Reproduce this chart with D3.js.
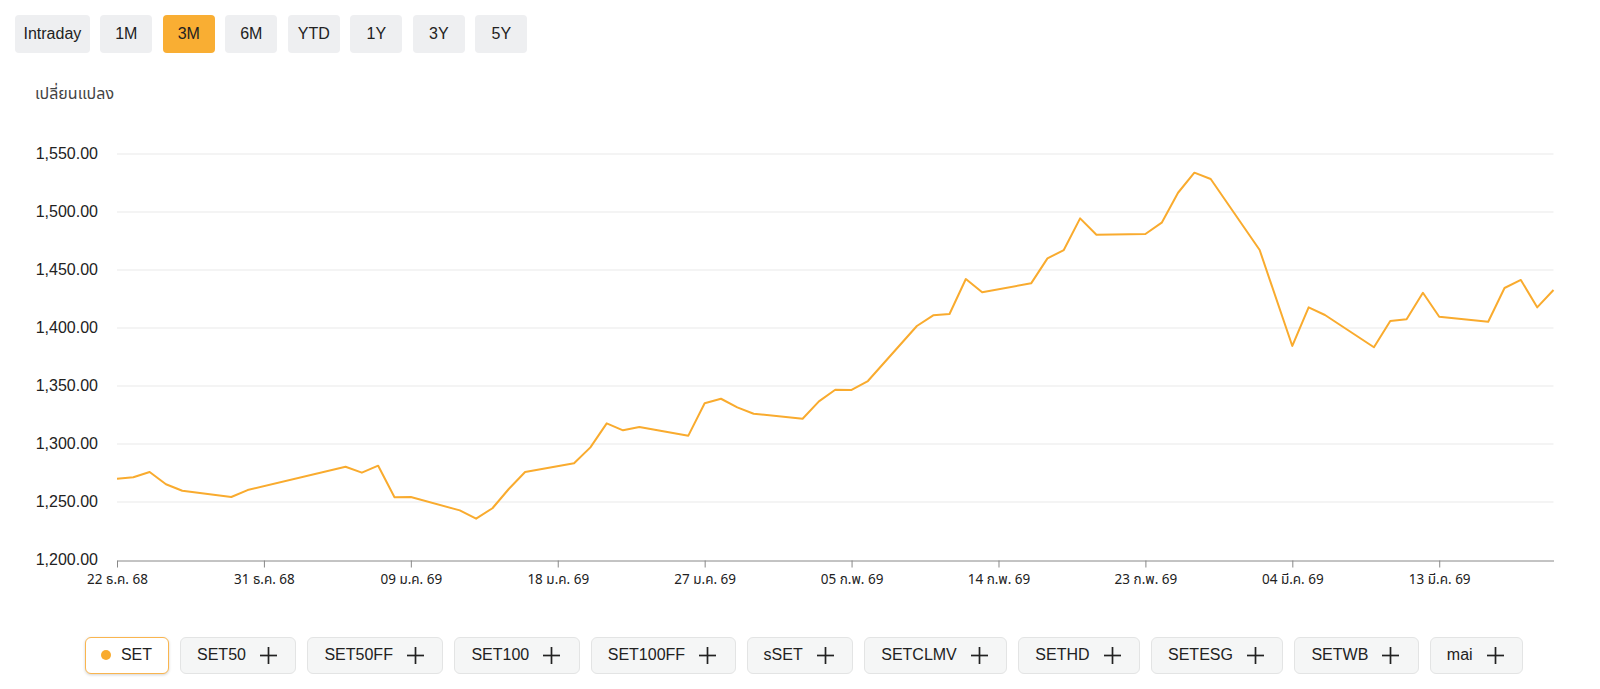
<!DOCTYPE html>
<html>
<head>
<meta charset="utf-8">
<script src="https://cdn.jsdelivr.net/npm/d3@7"></script>
<style>
  html, body { margin: 0; padding: 0; background: #fff; }
  body { width: 1600px; height: 689px; position: relative; overflow: hidden; font-family: "Liberation Sans", Arial, Helvetica, sans-serif; color: #222; }
  #periods { position: absolute; left: 15px; top: 14.5px; display: flex; gap: 10.5px; }
  .pbtn { height: 38px; line-height: 38px; min-width: 52px; padding: 0 7px; box-sizing: border-box; text-align: center; background: #eeeff1; border-radius: 4px; font-size: 16px; color: #222; }
  .pbtn.first { padding: 0 8.5px; }
  .pbtn.active { background: #f9ae33; }
  #ylabel { position: absolute; left: 35px; top: 82px; font-size: 16px; color: #444; font-family: "Noto Sans", "Noto Sans Thai", Tahoma, sans-serif; }
  svg { position: absolute; left: 0; top: 0; }
  #legend { position: absolute; left: 8px; right: 0; top: 636.5px; display: flex; justify-content: center; gap: 11px; }
  .lbtn { height: 37px; box-sizing: border-box; display: flex; align-items: center; padding: 0 18.5px 0 16px; background: #f5f6f6; border: 1px solid #e3e4e4; border-radius: 6px; font-size: 16px; color: #222; }
  .lbtn .plus { margin-left: 14px; width: 17px; height: 17px; }
  .lbtn.active { background: #fff; border-color: #f9b54f; box-shadow: 0 1px 3px rgba(0,0,0,0.18); padding: 0 16px 0 15px; }
  .lbtn .dot { width: 10px; height: 10px; border-radius: 50%; background: #f9ab2e; margin-right: 10px; }
</style>
</head>
<body>
<div id="periods"></div>
<div id="ylabel">เปลี่ยนแปลง</div>
<svg id="chart" width="1600" height="689"></svg>
<div id="legend"></div>
<script>
// ---- data ----
const periods = ["Intraday", "1M", "3M", "6M", "YTD", "1Y", "3Y", "5Y"];
const activePeriod = "3M";
const indices = ["SET", "SET50", "SET50FF", "SET100", "SET100FF", "sSET", "SETCLMV", "SETHD", "SETESG", "SETWB", "mai"];
const activeIndex = "SET";

const dates = [
  "2025-12-22","2025-12-23","2025-12-24","2025-12-25","2025-12-26","2025-12-29","2025-12-30",
  "2026-01-05","2026-01-06","2026-01-07","2026-01-08","2026-01-09",
  "2026-01-12","2026-01-13","2026-01-14","2026-01-15","2026-01-16",
  "2026-01-19","2026-01-20","2026-01-21","2026-01-22","2026-01-23",
  "2026-01-26","2026-01-27","2026-01-28","2026-01-29","2026-01-30",
  "2026-02-02","2026-02-03","2026-02-04","2026-02-05","2026-02-06",
  "2026-02-09","2026-02-10","2026-02-11","2026-02-12","2026-02-13",
  "2026-02-16","2026-02-17","2026-02-18","2026-02-19","2026-02-20",
  "2026-02-23","2026-02-24","2026-02-25","2026-02-26","2026-02-27",
  "2026-03-02","2026-03-04","2026-03-05","2026-03-06",
  "2026-03-09","2026-03-10","2026-03-11","2026-03-12","2026-03-13",
  "2026-03-16","2026-03-17","2026-03-18","2026-03-19","2026-03-20"
];
const setValues = [
  1270.1,1271.3,1275.9,1265.3,1259.7,1254.3,1260.3,
  1280.4,1275.3,1281.3,1254.1,1254.3,
  1242.8,1235.6,1244.6,1261.2,1275.9,
  1283.4,1297.1,1317.8,1311.8,1314.6,
  1307.2,1335.1,1339.0,1331.6,1326.1,
  1321.8,1336.8,1346.8,1346.6,1354.3,
  1401.7,1410.9,1412.1,1442.2,1430.8,
  1438.5,1460.0,1467.2,1494.5,1480.4,
  1481.0,1490.8,1516.6,1533.9,1528.4,
  1467.2,1384.5,1417.8,1411.2,
  1383.4,1406.0,1407.5,1430.4,1409.7,
  1405.4,1434.5,1441.4,1417.8,1432.8
];
const xDomain = ["2025-12-22", "2026-03-20"];
const xTickDates = ["2025-12-22","2025-12-31","2026-01-09","2026-01-18","2026-01-27","2026-02-05","2026-02-14","2026-02-23","2026-03-04","2026-03-13"];
const xTickLabels = ["22 ธ.ค. 68","31 ธ.ค. 68","09 ม.ค. 69","18 ม.ค. 69","27 ม.ค. 69","05 ก.พ. 69","14 ก.พ. 69","23 ก.พ. 69","04 มี.ค. 69","13 มี.ค. 69"];
const yTicks = [1200, 1250, 1300, 1350, 1400, 1450, 1500, 1550];

// ---- buttons ----
d3.select("#periods").selectAll("div").data(periods).join("div")
  .attr("class", (d, i) => "pbtn" + (i === 0 ? " first" : "") + (d === activePeriod ? " active" : ""))
  .text(d => d);

const lb = d3.select("#legend").selectAll("div").data(indices).join("div")
  .attr("class", d => "lbtn" + (d === activeIndex ? " active" : ""));
lb.each(function(d) {
  const el = d3.select(this);
  if (d === activeIndex) {
    el.append("span").attr("class", "dot");
    el.append("span").text(d);
  } else {
    el.append("span").text(d);
    const s = el.append("svg").attr("class", "plus").attr("viewBox", "0 0 17 17").style("position", "static");
    s.append("line").attr("x1", 0).attr("x2", 17).attr("y1", 8.5).attr("y2", 8.5).attr("stroke", "#222").attr("stroke-width", 1.7);
    s.append("line").attr("y1", 0).attr("y2", 17).attr("x1", 8.5).attr("x2", 8.5).attr("stroke", "#222").attr("stroke-width", 1.7);
  }
});

// ---- chart ----
const parse = d3.utcParse("%Y-%m-%d");
const svg = d3.select("#chart");
const x = d3.scaleUtc().domain(xDomain.map(parse)).range([117, 1553.5]);
const y = d3.scaleLinear().domain([1200, 1550]).range([560, 154]);

// gridlines
svg.append("g").selectAll("line").data(yTicks.filter(v => v > 1200)).join("line")
  .attr("x1", x.range()[0]).attr("x2", x.range()[1])
  .attr("y1", d => y(d)).attr("y2", d => y(d))
  .attr("stroke", "#e9e9e9").attr("stroke-width", 1);

// y labels
const yAxis = d3.axisLeft(y).tickValues(yTicks).tickFormat(d3.format(",.2f")).tickSize(0).tickPadding(0);
const yg = svg.append("g").attr("transform", "translate(98,0)").call(yAxis);
yg.select(".domain").remove();
yg.selectAll("text").attr("font-size", 16).attr("fill", "#222")
  .attr("font-family", "'Liberation Sans', Arial, sans-serif").attr("dy", "0.3em");

// x axis
const xAxis = d3.axisBottom(x).tickValues(xTickDates.map(parse))
  .tickFormat((d, i) => xTickLabels[i]).tickSizeInner(7).tickSizeOuter(0).tickPadding(7);
const xg = svg.append("g").attr("transform", "translate(0,560.5)").call(xAxis);
xg.select(".domain").attr("stroke", "#888");
xg.selectAll(".tick line").attr("stroke", "#888");
xg.selectAll("text").attr("font-size", 13.5).attr("fill", "#222")
  .attr("font-family", "'Noto Sans Thai', Tahoma, 'Noto Sans', sans-serif");

// line
const pts = dates.map((d, i) => ({ date: parse(d), value: setValues[i] }));
const line = d3.line().x(d => x(d.date)).y(d => y(d.value));
svg.append("path").datum(pts)
  .attr("d", line).attr("fill", "none")
  .attr("stroke", "#f9ab2e").attr("stroke-width", 2).attr("stroke-linejoin", "round");
</script>
</body>
</html>
